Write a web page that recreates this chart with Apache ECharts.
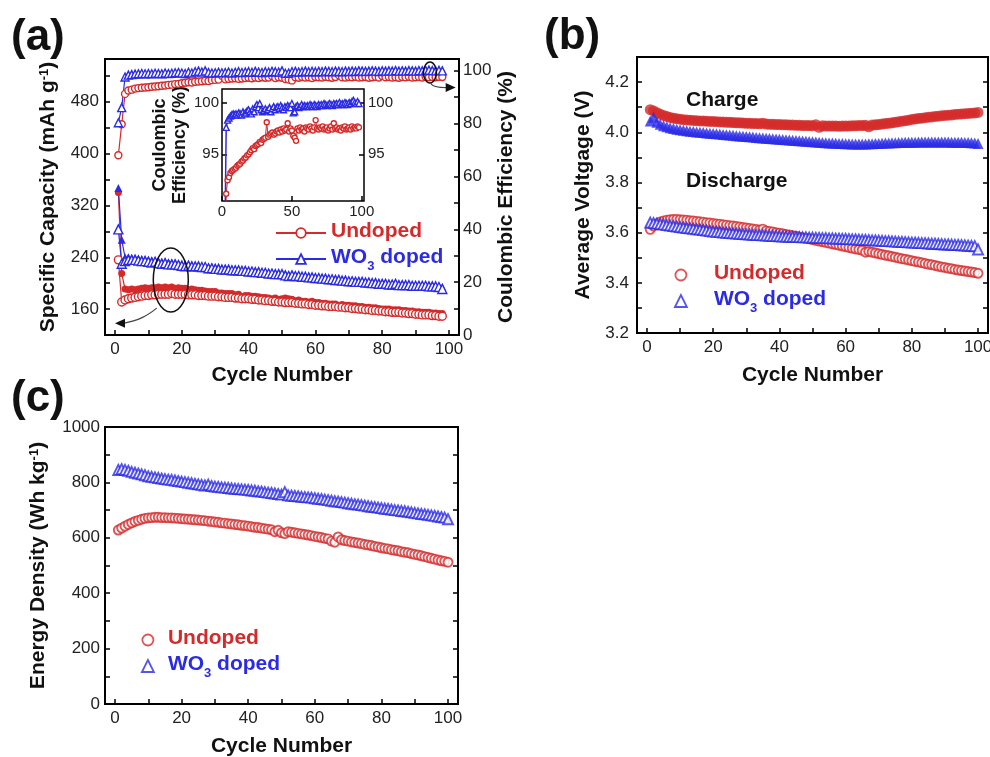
<!DOCTYPE html>
<html><head><meta charset="utf-8">
<script src="https://cdn.jsdelivr.net/npm/echarts@6.0.0/dist/echarts.min.js"></script>
<style>html,body{margin:0;padding:0;background:#fff}#c{width:990px;height:757px}</style>
</head><body><div id="c"></div><script>
const RED = '#d42a2a', BLUE = '#2b2be6';
const FONT = '"Liberation Sans", Arial, sans-serif';

// ---------- Panel (a): specific capacity (mAh/g), cycles 1..98 ----------
const capUndopedCharge = [340,215,191,190,191,190,191,192,193,192,
 193,193,194,193,194,193,194,192,193,192,
 192,190,191,190,189,189,188,187,187,187,
 185,185,184,184,184,182,183,179,181,181,
 180,180,179,178,178,177,176,177,175,176,
 177,176,175,173,174,172,172,171,172,170,
 170,169,169,168,168,168,166,167,166,166,
 165,165,164,164,163,163,162,162,161,160,
 160,160,159,159,159,158,158,157,157,156,
 156,155,155,155,154,154,153,153];
const capUndopedDischarge = [236,171,174,176,177,178,179,180,181,181,
 182,182,183,183,183,183,184,183,183,183,
 183,182,182,182,181,181,181,180,180,180,
 179,179,178,178,178,177,177,176,176,176,
 175,175,174,174,173,173,172,172,171,171,
 170,170,170,169,169,168,168,167,167,166,
 166,165,165,164,164,164,163,163,162,162,
 161,161,160,160,159,159,158,158,157,157,
 156,156,155,155,155,154,154,153,153,152,
 152,151,151,151,150,150,149,149];
const capWO3Charge = [347,267,240,240,239,239,238,237,237,236,
 235,235,234,233,233,232,231,231,230,229,
 229,228,228,227,227,226,226,225,225,224,
 224,223,223,222,222,221,221,220,220,219,
 219,218,218,217,217,216,216,215,215,214,
 214,213,213,212,212,211,211,210,210,209,
 209,208,208,207,207,206,206,205,205,204,
 204,203,203,203,202,202,201,201,200,200,
 200,199,199,199,198,198,198,197,197,197,
 196,196,196,195,195,195,194,194];
const capWO3Discharge = [283,230,234,236,236,236,235,234,234,233,
 232,233,231,230,231,229,229,229,228,227,
 226,227,226,226,226,225,225,223,223,222,
 222,221,221,221,220,220,220,219,219,218,
 218,217,217,216,216,215,215,214,214,214,
 212,211,212,211,211,210,210,209,209,208,
 208,207,207,206,206,205,205,204,204,203,
 203,202,202,202,201,201,200,200,199,199,
 199,198,198,199,197,197,197,197,196,196,
 196,196,196,195,195,195,194,191];
// Coulombic efficiency (%)
const ceUndoped = [68.0,79.7,91.2,92.5,92.8,93.2,93.4,93.5,93.6,93.7,
 93.9,94.0,94.1,94.3,94.4,94.6,94.7,94.9,95.0,95.2,
 95.4,95.6,95.5,95.8,95.9,96.0,96.2,96.1,96.4,96.5,
 96.6,98.1,96.7,96.9,97.0,97.1,96.9,97.0,97.2,97.3,
 97.1,97.4,97.2,97.5,97.3,97.4,98.0,97.2,97.5,97.3,
 96.8,96.6,96.3,97.5,97.3,97.6,97.4,97.5,97.2,97.6,
 97.5,97.4,97.7,97.5,97.3,97.6,98.3,97.5,97.4,97.6,
 97.5,97.7,97.4,97.5,97.6,97.3,97.5,97.7,97.4,98.0,
 97.5,97.6,97.4,97.5,97.3,97.6,97.5,97.7,97.4,97.5,
 97.6,97.4,97.7,97.5,97.6,97.5,97.7,97.6];
const ceWO3 = [80.3,86.0,97.6,98.3,98.5,98.7,98.8,98.9,98.8,98.9,
 98.8,99.0,98.9,98.8,99.1,98.9,99.0,99.2,99.3,99.1,
 98.9,99.4,99.1,99.6,99.8,99.5,99.9,99.3,99.1,99.2,
 99.4,99.2,99.3,99.5,99.1,99.4,99.6,99.3,99.5,99.6,
 99.4,99.7,99.5,99.3,99.6,99.5,99.7,99.6,99.5,99.9,
 99.0,99.1,99.6,99.7,99.5,99.6,99.8,99.6,99.7,99.6,
 99.7,99.6,99.8,99.7,99.6,99.8,99.7,99.6,99.8,99.7,
 99.8,99.7,99.9,99.8,99.7,99.8,99.9,99.8,99.7,99.9,
 99.8,99.9,99.8,100.0,99.8,99.9,99.8,100.0,99.9,99.8,
 100.0,99.9,100.1,100.2,100.0,99.9,100.1,99.9];

// ---------- Panel (b): average voltage (V), cycles 1..100 ----------
const vUndopedCharge = [4.090,4.085,4.078,4.072,4.067,4.063,4.059,4.056,4.054,4.052,
 4.050,4.049,4.048,4.047,4.046,4.045,4.045,4.044,4.043,4.043,
 4.042,4.041,4.041,4.040,4.040,4.039,4.038,4.038,4.037,4.036,
 4.036,4.035,4.035,4.034,4.036,4.033,4.032,4.032,4.031,4.031,
 4.030,4.030,4.029,4.029,4.028,4.028,4.027,4.027,4.027,4.026,
 4.030,4.020,4.026,4.025,4.025,4.025,4.025,4.024,4.025,4.025,
 4.025,4.026,4.026,4.027,4.027,4.028,4.022,4.029,4.030,4.031,
 4.033,4.035,4.036,4.038,4.040,4.042,4.044,4.046,4.048,4.051,
 4.053,4.055,4.056,4.058,4.060,4.061,4.063,4.064,4.066,4.067,
 4.068,4.069,4.071,4.072,4.073,4.074,4.075,4.076,4.077,4.079];
const vWO3Charge = [4.045,4.060,4.040,4.032,4.026,4.022,4.018,4.015,4.012,4.010,
 4.008,4.006,4.004,4.003,4.001,4.000,3.999,3.997,3.996,3.995,
 3.994,3.993,3.991,3.990,3.989,3.988,3.986,3.985,3.984,3.983,
 3.982,3.981,3.979,3.978,3.977,3.976,3.975,3.974,3.973,3.972,
 3.971,3.970,3.969,3.968,3.967,3.966,3.965,3.964,3.963,3.962,
 3.961,3.960,3.959,3.958,3.957,3.957,3.956,3.955,3.955,3.954,
 3.954,3.953,3.953,3.953,3.953,3.953,3.954,3.954,3.955,3.955,
 3.956,3.957,3.957,3.958,3.958,3.959,3.959,3.960,3.960,3.960,
 3.960,3.961,3.961,3.961,3.961,3.961,3.961,3.961,3.961,3.961,
 3.961,3.960,3.960,3.960,3.960,3.959,3.959,3.958,3.957,3.955];
const vUndopedDischarge = [3.613,3.626,3.636,3.643,3.647,3.650,3.652,3.653,3.653,3.652,
 3.651,3.650,3.648,3.647,3.645,3.644,3.642,3.640,3.639,3.637,
 3.635,3.634,3.632,3.630,3.628,3.627,3.625,3.623,3.621,3.619,
 3.617,3.615,3.613,3.611,3.614,3.607,3.605,3.603,3.600,3.598,
 3.596,3.593,3.591,3.588,3.586,3.583,3.580,3.578,3.575,3.572,
 3.569,3.566,3.564,3.561,3.558,3.555,3.553,3.550,3.547,3.544,
 3.541,3.538,3.535,3.533,3.530,3.522,3.525,3.522,3.519,3.516,
 3.513,3.510,3.508,3.505,3.502,3.499,3.496,3.494,3.491,3.488,
 3.485,3.483,3.480,3.477,3.474,3.472,3.469,3.466,3.463,3.461,
 3.458,3.456,3.453,3.451,3.449,3.447,3.445,3.443,3.441,3.438];
const vWO3Discharge = [3.640,3.638,3.636,3.634,3.632,3.630,3.628,3.626,3.624,3.622,
 3.620,3.618,3.617,3.615,3.613,3.612,3.610,3.608,3.606,3.604,
 3.603,3.602,3.600,3.599,3.598,3.597,3.596,3.595,3.594,3.593,
 3.592,3.591,3.590,3.590,3.589,3.588,3.587,3.586,3.586,3.585,
 3.584,3.584,3.583,3.583,3.582,3.582,3.581,3.581,3.580,3.580,
 3.579,3.579,3.578,3.578,3.577,3.577,3.576,3.576,3.575,3.575,
 3.574,3.573,3.573,3.572,3.571,3.571,3.570,3.569,3.569,3.568,
 3.567,3.566,3.566,3.565,3.564,3.563,3.563,3.562,3.561,3.560,
 3.560,3.559,3.558,3.558,3.557,3.556,3.556,3.555,3.554,3.553,
 3.553,3.552,3.551,3.551,3.550,3.549,3.548,3.547,3.546,3.533];

// ---------- Panel (c): energy density (Wh/kg), cycles 1..100 ----------
const eUndoped = [628,635,642,648,654,659,663,667,670,672,
 673,674,674,673,673,672,672,671,670,669,
 668,667,666,665,664,663,662,660,659,657,
 656,654,653,651,650,648,647,645,644,642,
 640,638,637,635,633,631,629,622,627,618,
 615,622,620,618,616,614,612,610,608,605,
 603,601,598,596,588,584,603,593,590,588,
 585,583,581,579,576,574,572,569,567,564,
 562,560,557,555,553,550,548,546,543,540,
 538,535,532,529,526,523,520,517,515,512];
const eWO3 = [845,848,845,842,838,835,832,829,826,822,
 820,818,816,814,812,810,809,807,805,803,
 801,799,797,795,793,791,789,792,787,785,
 784,782,781,780,778,777,776,775,774,773,
 771,770,768,767,765,763,762,760,758,756,
 765,753,752,751,750,748,747,746,745,743,
 741,740,738,736,734,732,731,729,727,725,
 723,721,720,718,716,714,712,711,709,707,
 705,704,702,700,699,697,696,694,692,690,
 688,686,685,683,681,679,677,675,673,667];

// ---------- ticks / labels ----------
const cycleTicks = [0,10,20,30,40,50,60,70,80,90,100];
const cycleLabels = [0,20,40,60,80,100];
const capTicks = [160,200,240,280,320,360,400,440,480,520];
const capLabels = [160,240,320,400,480];
const ceTicks = [10,20,30,40,50,60,70,80,90,100];
const ceLabels = [0,20,40,60,80,100];
const insetXTicks = [0,50,100];
const insetYTicks = [95,100];
const vTicks = [3.3,3.4,3.5,3.6,3.7,3.8,3.9,4.0,4.1,4.2];
const vLabels = [3.2,3.4,3.6,3.8,4.0,4.2];
const eTicks = [100,200,300,400,500,600,700,800,900];
const eLabels = [0,200,400,600,800,1000];

const pts = arr => arr.map((v, i) => [i + 1, v]);

const chart = echarts.init(document.getElementById('c'), null, {renderer: 'canvas'});

const gridBase = {show: true, borderColor: '#000', borderWidth: 2, backgroundColor: 'transparent', containLabel: false, outerBoundsMode: 'none'};
const tickStyle = (vals) => ({show: true, inside: true, length: 5, customValues: vals, lineStyle: {color: '#000', width: 1.5}});
const labelStyle = (vals, extra) => Object.assign({show: true, customValues: vals, color: '#222', fontSize: 17, fontFamily: FONT, margin: 6, formatter: v => String(v)}, extra || {});
const nameStyleBold = {fontSize: 21, fontWeight: 'bold', fontFamily: FONT, color: '#111'};
const richName = {
  n: {fontSize: 21, fontWeight: 'bold', fontFamily: FONT, color: '#111', lineHeight: 24, verticalAlign: 'top'},
  p: {fontSize: 13, fontWeight: 'bold', fontFamily: FONT, color: '#111', lineHeight: 13, verticalAlign: 'top'}
};

function xAxisDef(grid, min, max, ticks, labels, name, gap, extra) {
  return Object.assign({
    type: 'value', gridIndex: grid, min: min, max: max, position: 'bottom',
    axisLine: {show: false, onZero: false}, splitLine: {show: false},
    axisTick: tickStyle(ticks), axisLabel: labelStyle(labels),
    name: name, nameLocation: 'middle', nameGap: gap, nameTextStyle: nameStyleBold
  }, extra || {});
}
function yAxisDef(grid, min, max, ticks, labels, pos, extra) {
  return Object.assign({
    type: 'value', gridIndex: grid, min: min, max: max, position: pos,
    axisLine: {show: false, onZero: false}, splitLine: {show: false},
    axisTick: tickStyle(ticks), axisLabel: labels ? labelStyle(labels) : {show: false}
  }, extra || {});
}

const openStyle = (c, bw) => ({color: '#fff', borderColor: c, borderWidth: bw || 1.4});

function lineSeries(name, data, xi, yi, color, symbol, size, open, lw) {
  return {
    name: name, type: 'line', xAxisIndex: xi, yAxisIndex: yi, data: data,
    symbol: symbol, symbolSize: size, showSymbol: true,
    itemStyle: open ? openStyle(color) : {color: color},
    lineStyle: {color: color, width: lw || 1.2},
    emphasis: {disabled: true}, clip: true
  };
}
function scatterSeries(name, data, xi, yi, color, symbol, size, open) {
  return {
    name: name, type: 'scatter', xAxisIndex: xi, yAxisIndex: yi, data: data,
    symbol: symbol, symbolSize: size,
    itemStyle: open ? openStyle(color, 1.9) : {color: color},
    emphasis: {disabled: true}
  };
}

function legendRich(pad) {
  return {
    r0: {color: RED, fontSize: 21, fontWeight: 'bold', fontFamily: FONT, lineHeight: 24, verticalAlign: 'top', padding: [0, 0, 0, pad]},
    b0: {color: BLUE, fontSize: 21, fontWeight: 'bold', fontFamily: FONT, lineHeight: 24, verticalAlign: 'top', padding: [0, 0, 0, pad]},
    b: {color: BLUE, fontSize: 21, fontWeight: 'bold', fontFamily: FONT, lineHeight: 24, verticalAlign: 'top'},
    s: {color: BLUE, fontSize: 13, fontWeight: 'bold', fontFamily: FONT, lineHeight: 13, verticalAlign: 'top', padding: [13, 0, 0, 0]}
  };
}
const legendFmt = name => /Un$/.test(name) ? '{r0|Undoped}' : '{b0|WO}{s|3}{b| doped}';
function legendDef(name, left, top, w, h, pad) {
  return {
    data: [name], left: left, top: top, itemWidth: w, itemHeight: h, padding: 0,
    selectedMode: false, formatter: legendFmt, textStyle: {rich: legendRich(pad || 0)},
    lineStyle: {width: 2}, itemStyle: {borderWidth: 1.8}
  };
}

const titleStyle = {fontSize: 44, fontWeight: 'bold', fontFamily: FONT, color: '#111'};

chart.setOption({
  animation: false,
  backgroundColor: '#fff',
  title: [
    {text: '(a)', left: 11, top: 16, padding: 0, textStyle: titleStyle},
    {text: '(b)', left: 544, top: 15, padding: 0, textStyle: titleStyle},
    {text: '(c)', left: 11, top: 377, padding: 0, textStyle: titleStyle}
  ],
  grid: [
    Object.assign({}, gridBase, {left: 105, top: 59, width: 354, height: 276}),
    Object.assign({}, gridBase, {left: 222, top: 89, width: 142, height: 112, backgroundColor: '#fff', borderWidth: 1.5}),
    Object.assign({}, gridBase, {left: 637, top: 57, width: 351, height: 276}),
    Object.assign({}, gridBase, {left: 105, top: 427, width: 353, height: 277})
  ],
  xAxis: [
    xAxisDef(0, -3, 103, cycleTicks, cycleLabels, 'Cycle Number', 30),
    xAxisDef(1, 0, 101.6, insetXTicks, insetXTicks, '', 0, {axisLabel: labelStyle(insetXTicks, {fontSize: 15, margin: 3})}),
    xAxisDef(2, -3, 103, cycleTicks, cycleLabels, 'Cycle Number', 32),
    xAxisDef(3, -3, 103, cycleTicks, cycleLabels, 'Cycle Number', 32)
  ],
  yAxis: [
    yAxisDef(0, 120, 546, capTicks, capLabels, 'left', {
      name: '{n|Specific Capacity (mAh g}{p|-1}{n|)}', nameLocation: 'middle', nameGap: 43, nameRotate: 90,
      nameTextStyle: {rich: richName}
    }),
    yAxisDef(0, 0, 104.4, ceTicks, ceLabels, 'right', {
      axisLabel: labelStyle(ceLabels, {margin: 4}),
      name: 'Coulombic Efficiency (%)', nameLocation: 'middle', nameGap: 26, nameRotate: 90,
      nameTextStyle: nameStyleBold
    }),
    yAxisDef(1, 90.5, 101.3, insetYTicks, insetYTicks, 'left', {
      axisLabel: labelStyle(insetYTicks, {fontSize: 15, margin: 3}),
      name: 'Coulombic\nEfficiency (%)', nameLocation: 'middle', nameGap: 27, nameRotate: 90,
      nameTextStyle: {fontSize: 18, fontWeight: 'bold', fontFamily: FONT, color: '#111', lineHeight: 20}
    }),
    yAxisDef(1, 90.5, 101.3, insetYTicks, insetYTicks, 'right', {
      axisLabel: labelStyle(insetYTicks, {fontSize: 15, margin: 4})
    }),
    yAxisDef(2, 3.2, 4.3, vTicks, vLabels, 'left', {
      axisLabel: labelStyle(vLabels, {margin: 8, formatter: v => Number(v).toFixed(1)}),
      name: 'Average Voltgage (V)', nameLocation: 'middle', nameGap: 43, nameRotate: 90,
      nameTextStyle: nameStyleBold
    }),
    yAxisDef(2, 3.2, 4.3, vTicks, null, 'right'),
    yAxisDef(3, 0, 1000, eTicks, eLabels, 'left', {
      axisLabel: labelStyle(eLabels, {margin: 5}),
      name: '{n|Energy Density (Wh kg}{p|-1}{n|)}', nameLocation: 'middle', nameGap: 53, nameRotate: 90,
      nameTextStyle: {rich: richName}
    }),
    yAxisDef(3, 0, 1000, eTicks, null, 'right')
  ],
  legend: [
    legendDef('aUn', 275, 221, 50, 12, 0),
    legendDef('aWO', 275, 247, 50, 12, 0),
    legendDef('bUn', 674.5, 263, 11, 11, 22.5),
    legendDef('bWO', 674, 289, 12, 12, 22),
    legendDef('cUn', 141.5, 628, 11, 11, 9.5),
    legendDef('cWO', 141, 654, 12, 12, 9)
  ],
  series: [
    lineSeries('aUnCh', pts(capUndopedCharge), 0, 0, RED, 'circle', 7, false),
    lineSeries('aUnDis', pts(capUndopedDischarge), 0, 0, RED, 'circle', 8, true),
    lineSeries('aWOCh', pts(capWO3Charge), 0, 0, BLUE, 'triangle', 8, false),
    lineSeries('aWODis', pts(capWO3Discharge), 0, 0, BLUE, 'triangle', 9, true),
    lineSeries('aUn', pts(ceUndoped), 0, 1, RED, 'circle', 7, true),
    lineSeries('aWO', pts(ceWO3), 0, 1, BLUE, 'triangle', 8, true),
    lineSeries('iUn', pts(ceUndoped), 1, 2, RED, 'circle', 5, true, 1),
    lineSeries('iWO', pts(ceWO3), 1, 2, BLUE, 'triangle', 6, true, 1.5),
    scatterSeries('bUnCh', pts(vUndopedCharge), 2, 4, RED, 'circle', 11, false),
    scatterSeries('bWOCh', pts(vWO3Charge), 2, 4, BLUE, 'triangle', 11, false),
    scatterSeries('bUn', pts(vUndopedDischarge), 2, 4, RED, 'circle', 9, true),
    scatterSeries('bWO', pts(vWO3Discharge), 2, 4, BLUE, 'triangle', 10, true),
    scatterSeries('cUn', pts(eUndoped), 3, 6, RED, 'circle', 9, true),
    scatterSeries('cWO', pts(eWO3), 3, 6, BLUE, 'triangle', 10, true)
  ]
});

// ---------- annotations anchored in data space ----------
const P = (xi, yi, x, y) => chart.convertToPixel({xAxisIndex: xi, yAxisIndex: yi}, [x, y]);
const e1 = P(0, 0, 16.7, 205), s1 = P(0, 0, 12.5, 161.5), t1 = P(0, 0, 0, 138);
const e2 = P(0, 1, 94.3, 99.3), s2 = P(0, 1, 94.6, 95.3), t2 = P(0, 1, 102, 93.6);
const chg = P(2, 4, 11.8, 4.127), dis = P(2, 4, 11.8, 3.806);
const ann = {fill: 'none', stroke: '#111', lineWidth: 1.5};
chart.setOption({
  graphic: [
    {type: 'ellipse', z: 50, shape: {cx: e1[0], cy: e1[1], rx: 17.5, ry: 32}, style: ann},
    {type: 'bezierCurve', z: 50, shape: {x1: s1[0], y1: s1[1], cpx1: s1[0] - 10, cpy1: s1[1] + 8, cpx2: t1[0] + 24, cpy2: t1[1] - 3, x2: t1[0] + 8, y2: t1[1]}, style: {fill: 'none', stroke: '#444', lineWidth: 1.2}},
    {type: 'polygon', z: 50, shape: {points: [[t1[0], t1[1]], [t1[0] + 10, t1[1] - 4.5], [t1[0] + 10, t1[1] + 4.5]]}, style: {fill: '#111'}},
    {type: 'ellipse', z: 50, shape: {cx: e2[0], cy: e2[1], rx: 6.5, ry: 10.5}, style: ann},
    {type: 'bezierCurve', z: 50, shape: {x1: s2[0], y1: s2[1], cpx1: s2[0] + 1, cpy1: s2[1] + 4, cpx2: s2[0] + 8, cpy2: t2[1], x2: t2[0] - 8, y2: t2[1]}, style: {fill: 'none', stroke: '#444', lineWidth: 1.2}},
    {type: 'polygon', z: 50, shape: {points: [[t2[0], t2[1]], [t2[0] - 10, t2[1] - 4.5], [t2[0] - 10, t2[1] + 4.5]]}, style: {fill: '#111'}},
    {type: 'text', z: 50, x: chg[0], y: chg[1], style: {text: 'Charge', font: 'bold 21px ' + FONT, fill: '#111', align: 'left', verticalAlign: 'middle'}},
    {type: 'text', z: 50, x: dis[0], y: dis[1], style: {text: 'Discharge', font: 'bold 21px ' + FONT, fill: '#111', align: 'left', verticalAlign: 'middle'}}
  ]
});
</script></body></html>
